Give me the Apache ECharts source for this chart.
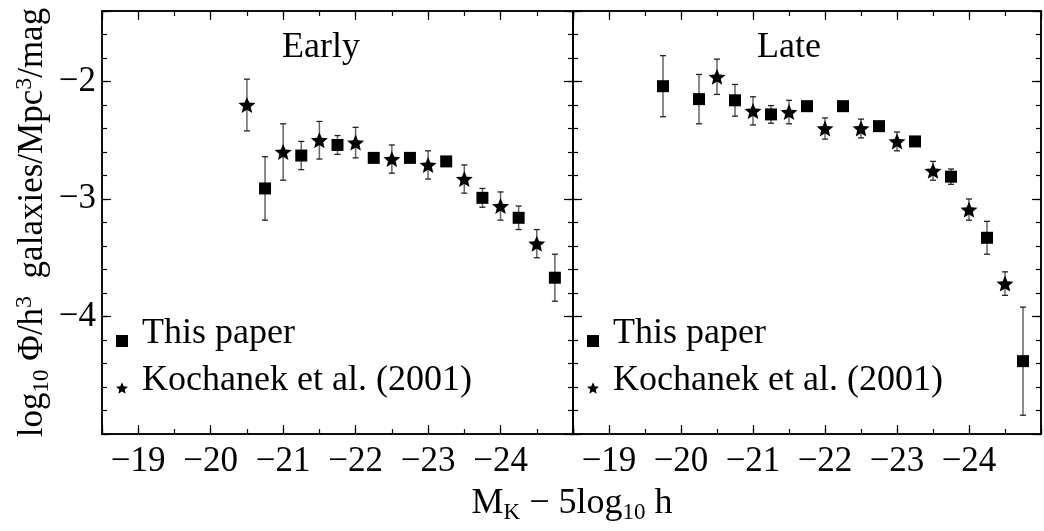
<!DOCTYPE html>
<html><head><meta charset="utf-8">
<script src="https://cdn.jsdelivr.net/npm/echarts@6/dist/echarts.min.js"></script>
<style>html,body{margin:0;padding:0;background:#fff}#c{width:1044px;height:531px}</style>
</head><body><div id="c"></div>
<script>
// ---- data ----
const xTickValues = [-19, -20, -21, -22, -23, -24];
const yTickValues = [-2, -3, -4];
const panelTitles = ['Early', 'Late'];
const seriesNames = ['This paper', 'Kochanek et al. (2001)'];

const earlyPaperX   = [-20.75, -21.25, -21.75, -22.25, -22.75, -23.25, -23.75, -24.25, -24.75];
const earlyPaperY   = [-2.91, -2.63, -2.54, -2.65, -2.65, -2.68, -2.99, -3.16, -3.67];
const earlyPaperErr = [0.27, 0.12, 0.08, 0.04, 0.03, 0.03, 0.08, 0.10, 0.20];
const earlyKochX    = [-20.5, -21.0, -21.5, -22.0, -22.5, -23.0, -23.5, -24.0, -24.5];
const earlyKochY    = [-2.20, -2.60, -2.50, -2.52, -2.66, -2.71, -2.83, -3.06, -3.38];
const earlyKochErr  = [0.22, 0.24, 0.16, 0.13, 0.12, 0.12, 0.12, 0.12, 0.12];

const latePaperX    = [-19.75, -20.25, -20.75, -21.25, -21.75, -22.25, -22.75, -23.25, -23.75, -24.25, -24.75];
const latePaperY    = [-2.04, -2.15, -2.16, -2.28, -2.21, -2.21, -2.38, -2.51, -2.81, -3.33, -4.38];
const latePaperErr  = [0.26, 0.21, 0.135, 0.075, 0.03, 0.03, 0.03, 0.03, 0.065, 0.14, 0.46];
const lateKochX     = [-20.5, -21.0, -21.5, -22.0, -22.5, -23.0, -23.5, -24.0, -24.5];
const lateKochY     = [-1.96, -2.25, -2.26, -2.40, -2.40, -2.51, -2.76, -3.09, -3.72];
const lateKochErr   = [0.15, 0.12, 0.10, 0.09, 0.08, 0.08, 0.08, 0.09, 0.10];

// ---- styling / construction ----
const FONT = 'Liberation Serif';
const STAR = 'path://M50,0 L63.2,31.8 L97.6,34.5 L71.4,57 L79.4,90.5 L50,72.5 L20.6,90.5 L28.6,57 L2.4,34.5 L36.8,31.8 Z';
const MINUS = '\u2212';

function xAx(grid, pos, interval, len, labels) {
  return {
    type: 'value', gridIndex: grid, position: pos, min: -25, max: -18.5, inverse: true, interval: interval,
    axisLine: {show: true, onZero: false, lineStyle: {color: '#000', width: 1.5}},
    axisTick: {show: true, inside: true, length: len, lineStyle: {color: '#000', width: 1.2}},
    axisLabel: {show: labels, margin: 10, color: '#000', fontFamily: FONT, fontSize: 35,
      formatter: v => xTickValues.includes(v) ? MINUS + Math.abs(v) : ''},
    splitLine: {show: false}
  };
}
function yAx(grid, pos, interval, len, labels, withName) {
  const a = {
    type: 'value', gridIndex: grid, position: pos, min: -5, max: -1.4, interval: interval,
    axisLine: {show: true, onZero: false, lineStyle: {color: '#000', width: 1.5}},
    axisTick: {show: true, inside: true, length: len, lineStyle: {color: '#000', width: 1.2}},
    axisLabel: {show: labels, margin: 6, color: '#000', fontFamily: FONT, fontSize: 35,
      formatter: v => yTickValues.includes(v) ? MINUS + Math.abs(v) : ''},
    splitLine: {show: false}
  };
  if (withName) {
    Object.assign(a, {
      name: '{a|log}{s|10}{a| Φ/h}{p|3}{a|  galaxies/Mpc}{p|3}{a|/mag}',
      nameLocation: 'middle', nameRotate: 90, nameGap: 49,
      nameTextStyle: {fontFamily: FONT, fontSize: 35, color: '#000', lineHeight: 40,
        rich: {
          a: {fontFamily: FONT, fontSize: 35, color: '#000', lineHeight: 40},
          s: {fontFamily: FONT, fontSize: 23, color: '#000', lineHeight: 20, verticalAlign: 'bottom'},
          p: {fontFamily: FONT, fontSize: 24, color: '#000', lineHeight: 24, verticalAlign: 'top'}
        }}
    });
  }
  return a;
}

const xAxes = [], yAxes = [];
for (let g = 0; g < 2; g++) {
  xAxes.push(xAx(g, 'bottom', 1, 9, true), xAx(g, 'bottom', 0.5, 5, false),
             xAx(g, 'top', 1, 9, false), xAx(g, 'top', 0.5, 5, false));
  yAxes.push(yAx(g, 'left', 1, 9, g === 0, g === 0), yAx(g, 'left', 0.2, 5, false, false),
             yAx(g, 'right', 1, 9, false, false), yAx(g, 'right', 0.2, 5, false, false));
}

function renderErr(params, api) {
  const x = api.value(0), y = api.value(1), e = api.value(2);
  const t = api.coord([x, y + e]), b = api.coord([x, y - e]);
  const cw = 3;
  return {type: 'group', children: [
    {type: 'line', shape: {x1: t[0], y1: t[1], x2: b[0], y2: b[1]}, style: {stroke: '#666', lineWidth: 1.5}},
    {type: 'line', shape: {x1: t[0] - cw, y1: t[1], x2: t[0] + cw, y2: t[1]}, style: {stroke: '#222', lineWidth: 1.3}},
    {type: 'line', shape: {x1: b[0] - cw, y1: b[1], x2: b[0] + cw, y2: b[1]}, style: {stroke: '#222', lineWidth: 1.3}}
  ]};
}
const zip2 = (xs, ys) => xs.map((x, i) => [x, ys[i]]);
const zip3 = (xs, ys, es) => xs.map((x, i) => [x, ys[i], es[i]]);

function panelSeries(g, px, py, pe, kx, ky, ke) {
  const xi = g * 4, yi = g * 4;
  return [
    {type: 'custom', xAxisIndex: xi, yAxisIndex: yi, renderItem: renderErr, encode: {x: 0, y: 1},
     data: zip3(px, py, pe), z: 1, silent: true},
    {type: 'custom', xAxisIndex: xi, yAxisIndex: yi, renderItem: renderErr, encode: {x: 0, y: 1},
     data: zip3(kx, ky, ke), z: 1, silent: true},
    {type: 'scatter', name: seriesNames[0], xAxisIndex: xi, yAxisIndex: yi, symbol: 'rect', symbolSize: 12,
     itemStyle: {color: '#000', opacity: 1}, data: zip2(px, py), z: 3},
    {type: 'scatter', name: seriesNames[1], xAxisIndex: xi, yAxisIndex: yi, symbol: STAR, symbolSize: [17, 16],
     itemStyle: {color: '#000', opacity: 1}, data: zip2(kx, ky), z: 3}
  ];
}

function legendAt(left) {
  return {
    left: left, top: 316, orient: 'vertical', padding: 0, itemGap: 11, itemWidth: 12, itemHeight: 12,
    selectedMode: false,
    formatter: name => '{t|' + name + '}{z| }',
    textStyle: {fontFamily: FONT, fontSize: 36, color: '#000',
      rich: {
        t: {fontFamily: FONT, fontSize: 36, color: '#000', lineHeight: 12, verticalAlign: 'top', padding: [0, 0, 0, 9]},
        z: {fontSize: 1, lineHeight: 50}
      }},
    data: [{name: seriesNames[0], icon: 'rect'}, {name: seriesNames[1], icon: STAR}]
  };
}

const chart = echarts.init(document.getElementById('c'), null, {renderer: 'canvas'});
chart.setOption({
  animation: false,
  backgroundColor: '#fff',
  grid: [
    {left: 102, top: 11, width: 471, height: 423, containLabel: false},
    {left: 573, top: 11, width: 469, height: 423, containLabel: false}
  ],
  xAxis: xAxes,
  yAxis: yAxes,
  legend: [legendAt(116), legendAt(587)],
  graphic: [
    {type: 'text', x: 321, y: 48, style: {text: panelTitles[0], fontFamily: FONT, fontSize: 36, fill: '#000', align: 'center', verticalAlign: 'middle'}},
    {type: 'text', x: 789, y: 48, style: {text: panelTitles[1], fontFamily: FONT, fontSize: 36, fill: '#000', align: 'center', verticalAlign: 'middle'}},
    {type: 'text', x: 572, y: 504, style: {
      text: '{a|M}{s|K}{a| − 5log}{s|10}{a| h}', align: 'center', verticalAlign: 'middle',
      fontFamily: FONT, fontSize: 36, fill: '#000',
      rich: {
        a: {fontFamily: FONT, fontSize: 36, fill: '#000', lineHeight: 40},
        s: {fontFamily: FONT, fontSize: 23, fill: '#000', lineHeight: 20, verticalAlign: 'bottom'}
      }}}
  ],
  series: [].concat(
    panelSeries(0, earlyPaperX, earlyPaperY, earlyPaperErr, earlyKochX, earlyKochY, earlyKochErr),
    panelSeries(1, latePaperX, latePaperY, latePaperErr, lateKochX, lateKochY, lateKochErr)
  )
});
</script>
</body></html>
